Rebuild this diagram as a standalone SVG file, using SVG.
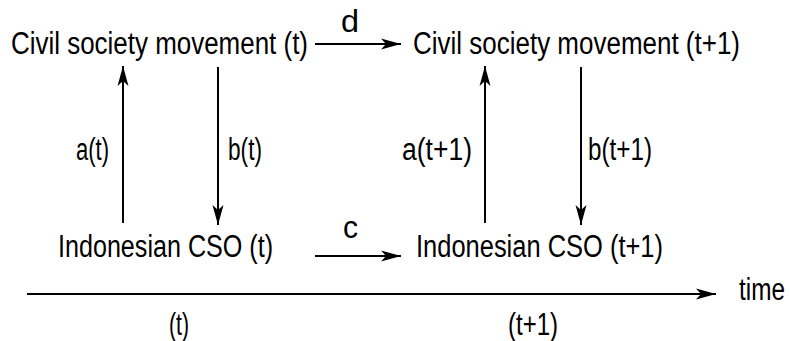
<svg xmlns="http://www.w3.org/2000/svg" width="790" height="341" viewBox="0 0 790 341">
<defs>
<marker id="ah" markerWidth="22" markerHeight="12" refX="20" refY="6" orient="auto" markerUnits="userSpaceOnUse">
<path d="M0,0.5 L20,6 L0,11.5 L5,6 Z" fill="#000"/>
</marker>
</defs>
<style>
text{font-family:"Liberation Sans",Arial,sans-serif;font-size:31px;fill:#000}
.c{stroke:#000;stroke-width:2;fill:none;marker-end:url(#ah)}
</style>
<rect width="790" height="341" fill="#fff"/>
<g id="csm_t"><text x="11" y="54" textLength="297" lengthAdjust="spacingAndGlyphs">Civil society movement (t)</text></g>
<g id="csm_t1"><text x="413" y="54" textLength="327" lengthAdjust="spacingAndGlyphs">Civil society movement (t+1)</text></g>
<g id="cso_t"><text x="58" y="257" textLength="215" lengthAdjust="spacingAndGlyphs">Indonesian CSO (t)</text></g>
<g id="cso_t1"><text x="416" y="257" textLength="247" lengthAdjust="spacingAndGlyphs">Indonesian CSO (t+1)</text></g>
<g id="connectors">
<line class="c" x1="315" y1="44" x2="401" y2="44"/>
<line class="c" x1="315" y1="256" x2="401" y2="256"/>
<line class="c" x1="123" y1="223" x2="123" y2="66"/>
<line class="c" x1="218" y1="67" x2="218" y2="225"/>
<line class="c" x1="485" y1="223" x2="485" y2="66"/>
<line class="c" x1="581" y1="67" x2="581" y2="225"/>
<line class="c" x1="27" y1="294" x2="716" y2="294"/>
</g>
<g id="labels">
<text x="341" y="32" textLength="18" lengthAdjust="spacingAndGlyphs">d</text>
<text x="343" y="238" textLength="15" lengthAdjust="spacingAndGlyphs">c</text>
<text x="76" y="160" textLength="33" lengthAdjust="spacingAndGlyphs">a(t)</text>
<text x="228" y="160" textLength="34" lengthAdjust="spacingAndGlyphs">b(t)</text>
<text x="402" y="160" textLength="70" lengthAdjust="spacingAndGlyphs">a(t+1)</text>
<text x="588" y="160" textLength="64" lengthAdjust="spacingAndGlyphs">b(t+1)</text>
<text x="739" y="300" textLength="46" lengthAdjust="spacingAndGlyphs">time</text>
<text x="169" y="335" textLength="20" lengthAdjust="spacingAndGlyphs">(t)</text>
<text x="508" y="335" textLength="50" lengthAdjust="spacingAndGlyphs">(t+1)</text>
</g>
</svg>
